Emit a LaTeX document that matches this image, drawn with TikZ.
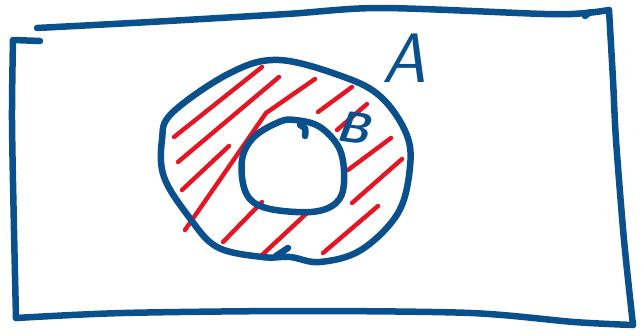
\documentclass[tikz,border=0pt]{standalone}
\definecolor{inkblue}{RGB}{10,80,140}
\definecolor{inkred}{RGB}{228,22,36}
\tikzset{
  blueink/.style={draw=inkblue,line width=6.5pt,line cap=round,line join=round},
  redink/.style={draw=inkred,line width=4.4pt,line cap=round,line join=round},
  letter/.style={text=inkblue,inner sep=0pt}
}
\begin{document}
\begin{tikzpicture}[x=1pt,y=-1pt]
\useasboundingbox (0,0) rectangle (644,335);
% outer rectangle (universe)
\draw[blueink] (14,40) -- (40,41);
\draw[blueink] plot[smooth,tension=0.5] coordinates {(13,40) (12,120) (14,230) (16,318)};
\draw[blueink] plot[smooth,tension=0.5] coordinates {(16,318) (123,313) (300,311) (471,313) (574,322) (633,325)};
\draw[blueink] plot[smooth,tension=0.5] coordinates {(609,10) (613,80) (616,140) (624,240) (633,325)};
\draw[blueink] plot[smooth,tension=0.5] coordinates {(37,28) (150,22) (287,14) (381,8) (545,14) (586,13) (609,10)};
\draw[blueink] (585,16) -- (590,12);
% hatching
\draw[redink] (174,137) -- (262,67);
\draw[redink] (178,162) -- (279,77);
\draw[redink] (182,190) -- (229,146);
\draw[redink] (185,230) -- (228,168) -- (266,113) -- (315,79);
\draw[redink] (318,112) -- (352,87);
\draw[redink] (337,130) -- (367,104);
\draw[redink] (348,170) -- (391,138);
\draw[redink] (352,203) -- (402,159);
\draw[redink] (323,253) -- (378,206);
\draw[redink] (262,255) -- (307,213);
\draw[redink] (223,242) -- (262,202);
% set A
\draw[blueink] plot[smooth cycle,tension=0.6] coordinates {
  (172,113) (230,73) (279,60) (344,77) (381,97) (406,133) (410,167)
  (398,213) (361,250) (320,262) (290,257) (262,257) (217,247)
  (189,217) (164,177) (162,140)};
\draw[blueink] (276,256) -- (288,248);
% set B
\draw[blueink] plot[smooth cycle,tension=0.6] coordinates {
  (295,120) (320,127) (340,150) (344,183) (336,203) (311,212)
  (266,208) (246,193) (242,160) (254,137) (279,122)};
\draw[blueink] (300,125) .. controls (306,128) .. (305,136);
% labels
\node[letter,font=\sffamily\itshape\fontsize{70}{70}\selectfont] (la) at (404,58) {A};
\node[letter,font=\sffamily\bfseries\itshape\fontsize{44}{44}\selectfont,rotate=-8] (lb) at (354,128) {B};
\end{tikzpicture}
\end{document}
